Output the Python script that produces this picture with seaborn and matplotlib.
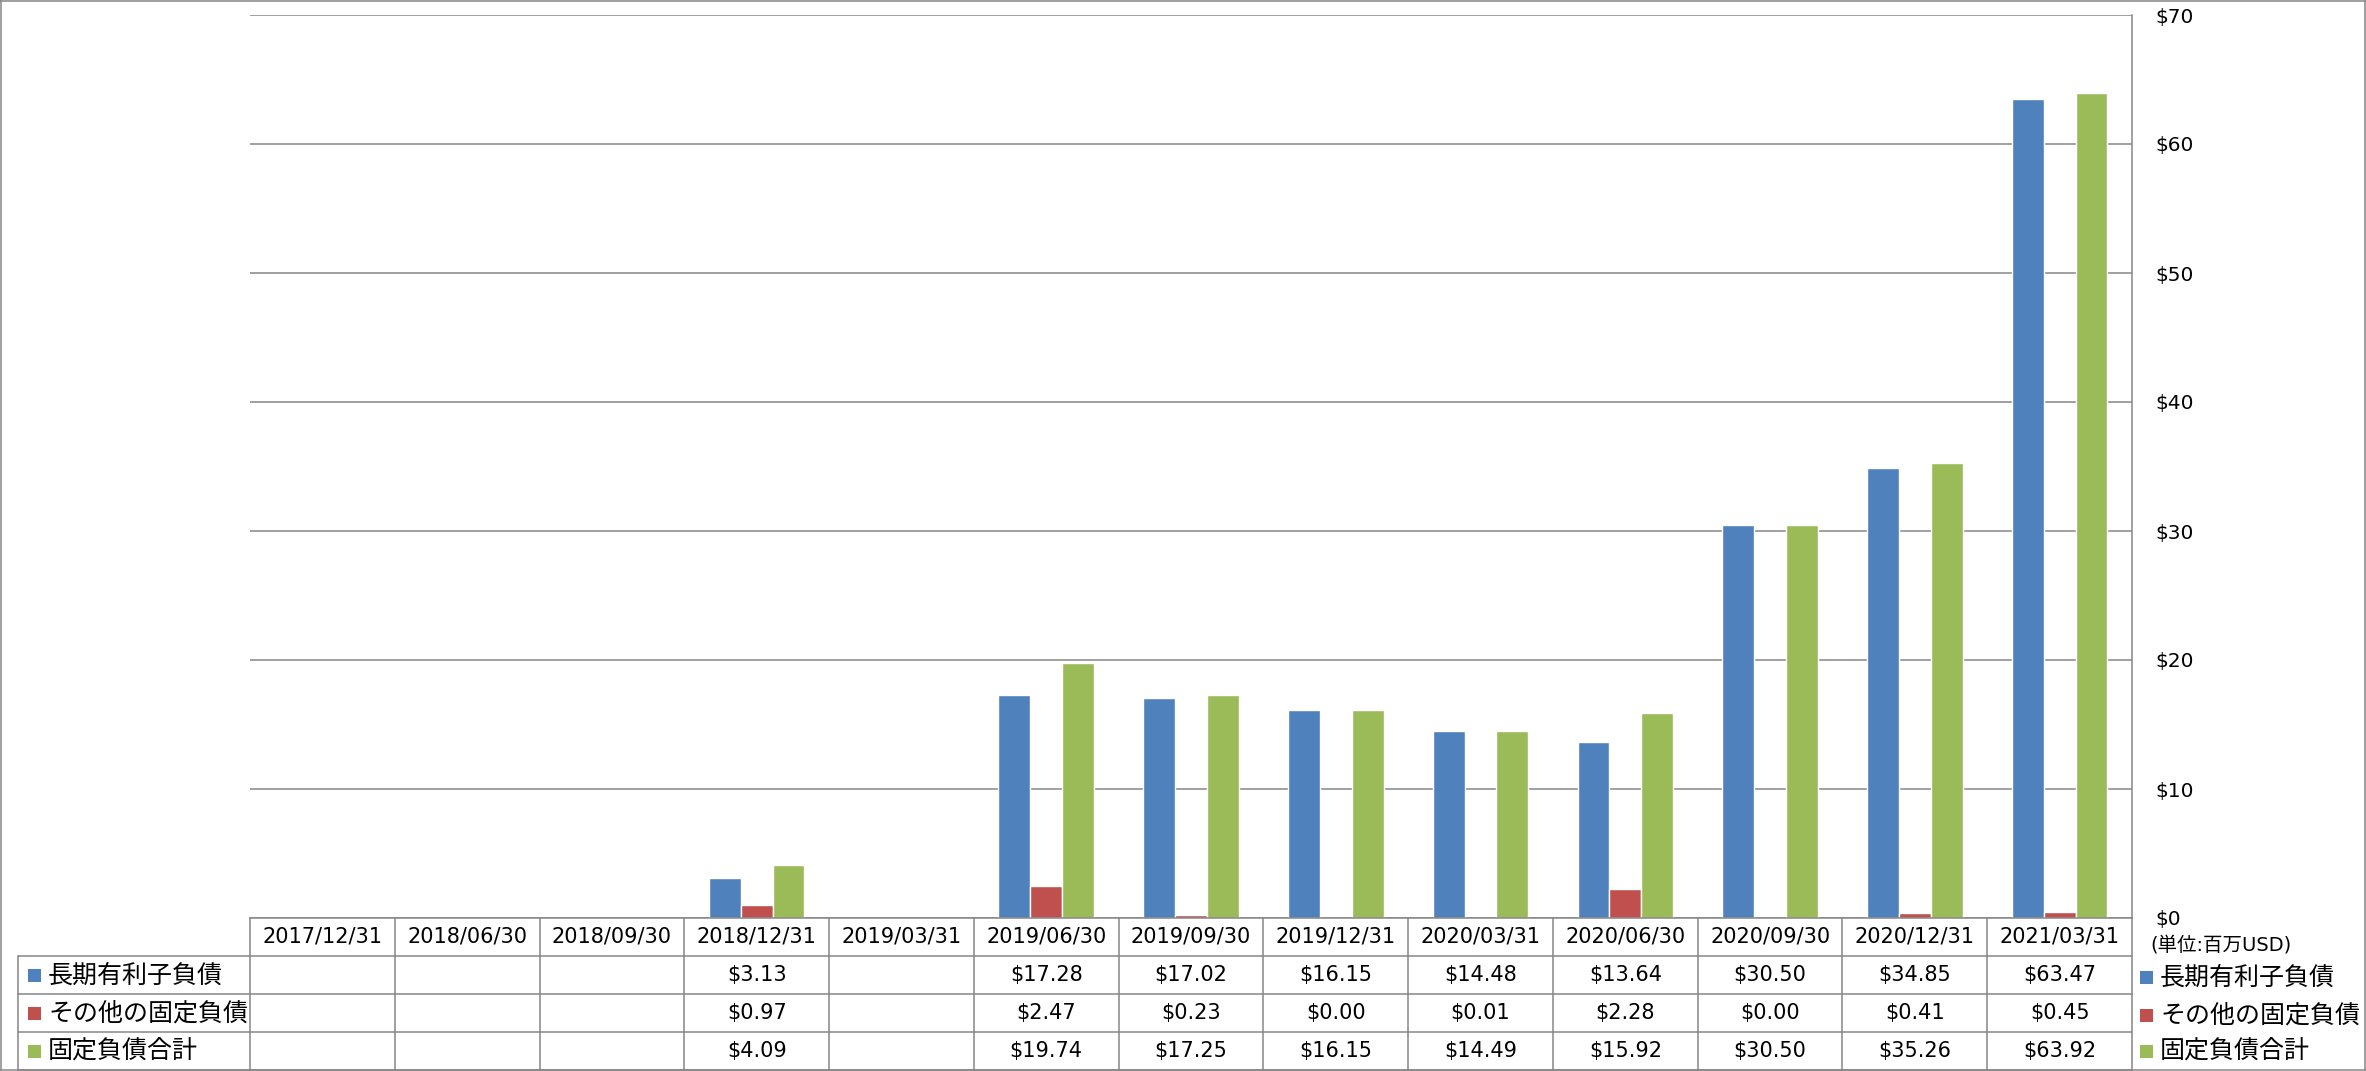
import numpy as np
import pandas as pd
import matplotlib
matplotlib.use('Agg')
import matplotlib.pyplot as plt
import matplotlib.transforms as mtransforms
from matplotlib.lines import Line2D
from matplotlib.patches import Rectangle
import seaborn as sns

# ---------------- data ----------------
dates = ['2017/12/31', '2018/06/30', '2018/09/30', '2018/12/31', '2019/03/31',
         '2019/06/30', '2019/09/30', '2019/12/31', '2020/03/31', '2020/06/30',
         '2020/09/30', '2020/12/31', '2021/03/31']
series_names = ['長期有利子負債', 'その他の固定負債', '固定負債合計']
long_term_debt = [np.nan, np.nan, np.nan, 3.13, np.nan, 17.28, 17.02, 16.15, 14.48, 13.64, 30.50, 34.85, 63.47]
other_fixed = [np.nan, np.nan, np.nan, 0.97, np.nan, 2.47, 0.23, 0.00, 0.01, 2.28, 0.00, 0.41, 0.45]
total_fixed = [np.nan, np.nan, np.nan, 4.09, np.nan, 19.74, 17.25, 16.15, 14.49, 15.92, 30.50, 35.26, 63.92]
y_ticks = [0, 10, 20, 30, 40, 50, 60, 70]
unit_label = '(単位:百万USD)'
colors = ['#4F81BD', '#C0504D', '#9BBB59']

series_values = [long_term_debt, other_fixed, total_fixed]
df = pd.DataFrame({
    'date': np.repeat([dates], 3, axis=0).ravel(),
    'series': np.repeat(series_names, len(dates)),
    'value': np.concatenate(series_values),
})

# ---------------- style ----------------
sns.set_style('white')
plt.rcParams['font.family'] = ['DejaVu Sans', 'Noto Sans CJK JP']
GRID = '#868686'

W, H = 2366, 1071
fig = plt.figure(figsize=(W / 100, H / 100), dpi=100)

def fx(px):
    return px / W

def fy(py):
    return 1 - py / H

L, R, T, B = 250, 2132, 15, 918
ax = fig.add_axes([fx(L), fy(B), (R - L) / W, (B - T) / H])

sns.barplot(data=df, x='date', y='value', hue='series', order=dates,
            hue_order=series_names, palette=colors, width=0.66, gap=0,
            saturation=1, errorbar=None, legend=False, ax=ax)

ax.set_xlim(-0.5, len(dates) - 0.5)
ax.set_ylim(0, 70)
ax.set_yticks(y_ticks)
ax.set_yticklabels([f'${v}' for v in y_ticks])
ax.yaxis.tick_right()
ax.tick_params(axis='y', length=0, pad=16.5, labelsize=14.5, labelcolor='#000000')
ax.set_xticks([])
ax.set_xlabel('')
ax.set_ylabel('')
ax.yaxis.grid(True, color=GRID, lw=1.1)
ax.set_axisbelow(True)
for s in ['left', 'top']:
    ax.spines[s].set_visible(False)
for s in ['right', 'bottom']:
    ax.spines[s].set_color(GRID)
    ax.spines[s].set_linewidth(1.1)

# ---------------- data table ----------------
trans = mtransforms.blended_transform_factory(ax.transData, fig.transFigure)
row_lines = [956, 994, 1032, 1070]
row_centers = [975, 1013, 1051]
header_center = 937

def fline(x0, y0, x1, y1, transform=fig.transFigure):
    fig.add_artist(Line2D([x0, x1], [y0, y1], transform=transform,
                          color=GRID, lw=1.1, clip_on=False))

for yl in row_lines:
    fline(fx(18), fy(yl), fx(R), fy(yl))
fline(fx(18), fy(956), fx(18), fy(1070))
for k in range(len(dates) + 1):
    xb = k - 0.5
    fline(xb, fy(B), xb, fy(1070), transform=trans)

for i, d in enumerate(dates):
    fig.text(i, fy(header_center), d, transform=trans, ha='center', va='center',
             fontsize=15, color='#000000')
    for r, vals in enumerate(series_values):
        v = vals[i]
        if not np.isnan(v):
            fig.text(i, fy(row_centers[r]), f'${v:.2f}', transform=trans,
                     ha='center', va='center', fontsize=15, color='#000000')

# row labels with colour keys
for r, name in enumerate(series_names):
    yc = row_centers[r]
    fig.add_artist(Rectangle((fx(28), fy(yc + 6.5)), 13 / W, 13 / H,
                             transform=fig.transFigure, color=colors[r], lw=0))
    fig.text(fx(48), fy(yc + 1), name, ha='left', va='center', fontsize=18,
             color='#000000')

# right legend
legend_centers = [977, 1015, 1051]
for r, name in enumerate(series_names):
    yc = legend_centers[r]
    fig.add_artist(Rectangle((fx(2140), fy(yc + 6.5)), 13 / W, 13 / H,
                             transform=fig.transFigure, color=colors[r], lw=0))
    fig.text(fx(2160), fy(yc + 1), name, ha='left', va='center', fontsize=18,
             color='#000000')

fig.text(fx(2150), fy(945), unit_label, ha='left', va='center', fontsize=14,
         color='#000000')

# outer frame
fline(fx(0.8), fy(0), fx(0.8), fy(1070))
fline(fx(0), fy(0.8), fx(W), fy(0.8))
fline(fx(W - 0.8), fy(0), fx(W - 0.8), fy(1070))
fline(fx(0), fy(1070), fx(W), fy(1070))

fig.savefig('out.png', dpi=100)
